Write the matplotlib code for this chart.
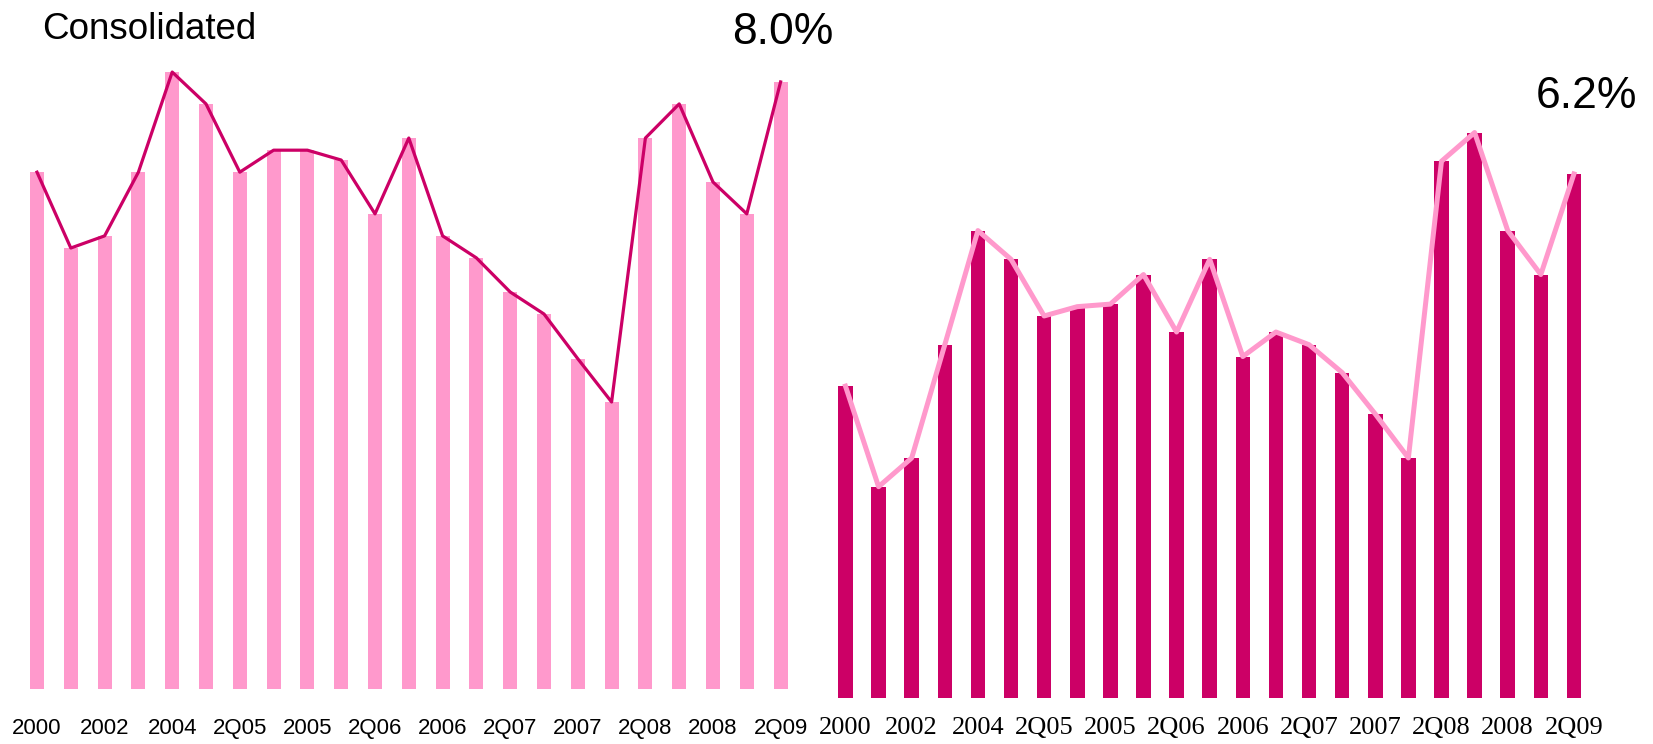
import matplotlib
matplotlib.use("Agg")
import matplotlib.pyplot as plt
from matplotlib import font_manager
import numpy as np

# quarter / year labels, shown under every other bar
periods = ['2000', '', '2002', '', '2004', '', '2Q05', '', '2005', '', '2Q06', '',
           '2006', '', '2Q07', '', '2007', '', '2Q08', '', '2008', '', '2Q09']

# consolidated margin (%)
consolidated = [6.81, 5.81, 5.97, 6.81, 8.13, 7.71, 6.81, 7.10, 7.10, 6.97, 6.26, 7.26,
                5.97, 5.68, 5.23, 4.94, 4.35, 3.78, 7.26, 7.71, 6.68, 6.26, 8.0]
# second segment margin (%)
segment = [3.69, 2.50, 2.84, 4.18, 5.53, 5.19, 4.52, 4.63, 4.66, 5.01, 4.33, 5.19,
           4.04, 4.33, 4.18, 3.85, 3.36, 2.84, 6.35, 6.69, 5.53, 5.01, 6.2]

pink = '#FF99CC'
magenta = '#CC0066'

# narrow face for the big numbers if the system has it
installed = {f.name for f in font_manager.fontManager.ttflist}
big_font = 'Liberation Sans Narrow' if 'Liberation Sans Narrow' in installed else 'Liberation Sans'
big_size = 35 if big_font == 'Liberation Sans Narrow' else 32

W, H = 1653, 744
fig = plt.figure(figsize=(W / 100, H / 100), dpi=100)
fig.patch.set_facecolor('white')

x = np.arange(len(periods))

# left panel: pink bars, magenta line
ax1 = fig.add_axes([20.1 / W, 55.3 / H, 777.4 / W, 688.7 / H])
ax1.bar(x, consolidated, width=0.41, color=pink)
ax1.plot(x, consolidated, color=magenta, lw=2.3)
ax1.set_xlim(-0.5, len(x) - 0.5)
ax1.set_ylim(0, 9.08)
ax1.set_xticks(x)
ax1.set_xticklabels(periods, fontfamily='Liberation Sans', fontsize=16)
ax1.annotate(f'{consolidated[-1]:.1f}%', (x[-1], consolidated[-1]),
             xytext=(2, 38), textcoords='offset pixels', ha='center', va='baseline',
             fontfamily=big_font, fontsize=big_size)

# right panel: magenta bars, pink line
ax2 = fig.add_axes([828.9 / W, 46 / H, 761.6 / W, 698 / H])
ax2.bar(x, segment, width=0.44, color=magenta)
ax2.plot(x, segment, color=pink, lw=3.6)
ax2.set_xlim(-0.5, len(x) - 0.5)
ax2.set_ylim(0, 8.258)
ax2.set_xticks(x)
ax2.set_xticklabels(periods, fontfamily='Liberation Serif', fontsize=19)
ax2.annotate(f'{segment[-1]:.1f}%', (x[-1], segment[-1]),
             xytext=(13, 66), textcoords='offset pixels', ha='center', va='baseline',
             fontfamily=big_font, fontsize=big_size)

for ax in (ax1, ax2):
    ax.set_facecolor('none')
    for s in ax.spines.values():
        s.set_visible(False)
    ax.set_yticks([])
ax1.tick_params(axis='x', length=0, pad=21)
ax2.tick_params(axis='x', length=0, pad=14)

fig.text(42 / W, 1 - 39 / H, 'Consolidated', ha='left', va='baseline',
         fontfamily='Liberation Sans', fontsize=26.5)

fig.savefig('out.png', dpi=100, facecolor='white')
